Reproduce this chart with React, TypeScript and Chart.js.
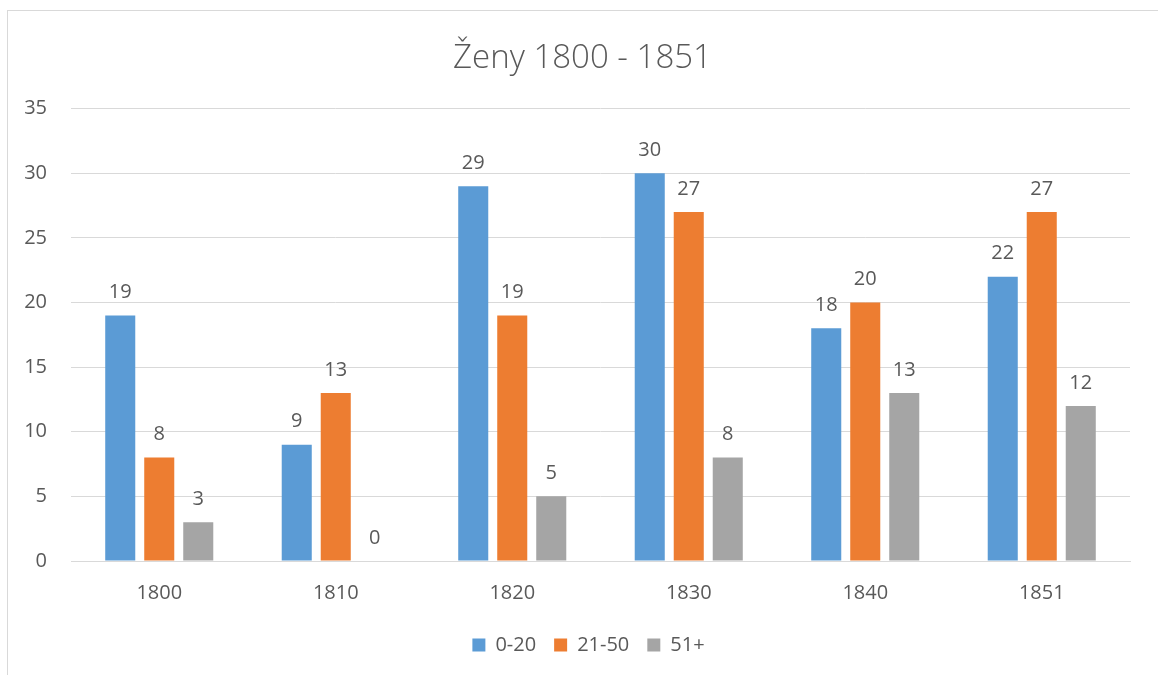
import React, { useEffect, useRef } from "react";
import { Chart, registerables } from "chart.js";

Chart.register(...registerables);

const categories = ["1800", "1810", "1820", "1830", "1840", "1851"];
const seriesNames = ["0-20", "21-50", "51+"];
const young = [19, 9, 29, 30, 18, 22];
const middle = [8, 13, 19, 27, 20, 27];
const old = [3, 0, 5, 8, 13, 12];
const colors = ["#5B9BD5", "#ED7D31", "#A5A5A5"];
const titleText = "Ženy 1800 - 1851";

const FONT = "'Open Sans', 'DejaVu Sans', sans-serif";
const TEXT = "#595959";

const labelPlugin = {
  id: "barLabels",
  afterLayout(chart: any) {
    if (chart.legend) {
      chart.legend.left += 12;
      chart.legend.right += 12;
    }
    if (chart.titleBlock) {
      chart.titleBlock.left += 6;
      chart.titleBlock.right += 6;
    }
  },
  afterDatasetsDraw(chart: any) {
    const ctx = chart.ctx;
    ctx.save();
    ctx.font = `20px ${FONT}`;
    ctx.fillStyle = TEXT;
    ctx.textAlign = "center";
    ctx.textBaseline = "middle";
    chart.data.datasets.forEach((ds: any, i: number) => {
      const meta = chart.getDatasetMeta(i);
      meta.data.forEach((bar: any, j: number) => {
        ctx.fillText(String(ds.data[j]), bar.x, bar.y - 23);
      });
    });
    ctx.restore();
  },
};

export default function App() {
  const ref = useRef<HTMLCanvasElement>(null);
  useEffect(() => {
    if (!ref.current) return;
    const chart = new Chart(ref.current, {
      type: "bar",
      data: {
        labels: categories,
        datasets: [young, middle, old].map((d, i) => ({
          label: seriesNames[i],
          data: d,
          backgroundColor: colors[i],
          borderWidth: 0,
          categoryPercentage: 0.663,
          barPercentage: 0.77,
        })),
      },
      options: {
        animation: false,
        responsive: false,
        layout: { padding: { left: 15, right: 36, top: 24, bottom: 16 } },
        plugins: {
          title: {
            display: true,
            text: titleText,
            color: TEXT,
            font: { family: FONT, size: 33, weight: "300" as any },
            padding: { top: 4, bottom: 30 },
          },
          legend: {
            position: "bottom",
            labels: {
              color: TEXT,
              font: { family: FONT, size: 20 },
              boxWidth: 13,
              boxHeight: 13,
              padding: 18,
            },
          },
          tooltip: { enabled: false },
        },
        scales: {
          x: {
            grid: { display: false },
            border: { color: "#D9D9D9", width: 1 },
            ticks: { color: TEXT, font: { family: FONT, size: 20 }, padding: 12 },
          },
          y: {
            min: 0,
            max: 35,
            afterFit: (axis: any) => {
              axis.width = 48;
            },
            ticks: { stepSize: 5, color: TEXT, font: { family: FONT, size: 20 }, padding: 24 },
            grid: { color: "#D9D9D9", lineWidth: 1, drawTicks: false },
            border: { display: false },
          },
        },
      },
      plugins: [labelPlugin],
    });
    return () => chart.destroy();
  }, []);
  return (
    <div style={{ position: "fixed", inset: 0, overflow: "hidden", background: "#fff" }}>
      <div
        style={{
          position: "absolute",
          left: 7,
          top: 10,
          width: 1170,
          height: 690,
          border: "1px solid #D9D9D9",
          boxSizing: "border-box",
        }}
      >
        <canvas ref={ref} width={1158} height={670} style={{ display: "block" }} />
      </div>
    </div>
  );
}
